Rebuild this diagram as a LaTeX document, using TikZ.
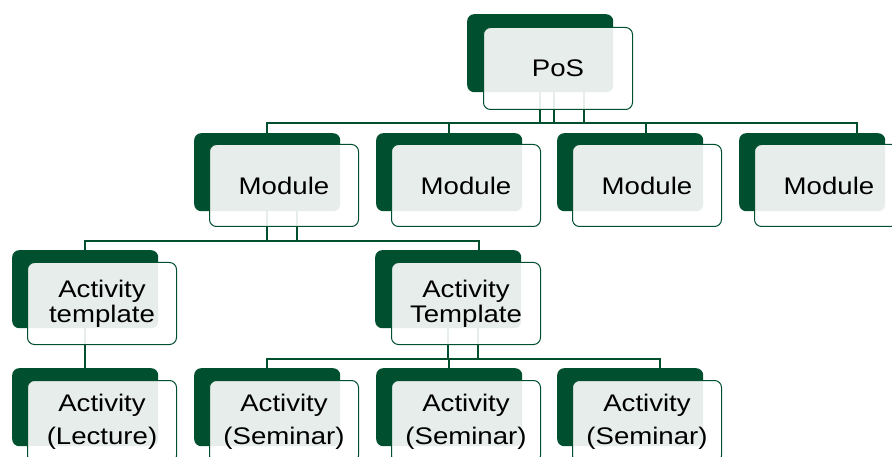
\documentclass[tikz,border=0pt]{standalone}
\usepackage{fontspec}
\setmainfont{Liberation Sans}[FakeStretch=1.15]
\usetikzlibrary{calc,positioning}
\definecolor{Forest}{HTML}{00502F}
\tikzset{
  backbox/.style={
    anchor=north west, rounded corners=7pt, fill=Forest,
    minimum width=146pt, minimum height=78pt, inner sep=0pt
  },
  frontbox/.style={
    anchor=north west, rounded corners=7pt, draw=Forest, line width=1pt,
    fill=white, fill opacity=0.9, text opacity=1, text=black,
    minimum width=149pt, minimum height=82pt, inner sep=0pt, align=center,
    font=\fontsize{24}{25}\selectfont
  },
  tallfront/.style={frontbox, font=\fontsize{24}{33}\selectfont},
  link/.style={draw=Forest, line width=1.5pt}
}

\begin{document}
\begin{tikzpicture}[x=1pt,y=-1pt]
    \useasboundingbox (0,0) rectangle (892,457);
    % back plates
    \node[backbox] (posB) at (467,14) {};
    \node[backbox] (mod1B) at (194,133) {};
    \node[backbox] (mod2B) at (376,133) {};
    \node[backbox] (mod3B) at (557,133) {};
    \node[backbox] (mod4B) at (739,133) {};
    \node[backbox] (tplaB) at (12,250) {};
    \node[backbox] (tplbB) at (375,250) {};
    \node[backbox] (lecB) at (12,368) {};
    \node[backbox] (sem1B) at (194,368) {};
    \node[backbox] (sem2B) at (376,368) {};
    \node[backbox] (sem3B) at (557,368) {};
    % bus points
    \coordinate (busA1) at (540,123);
    \coordinate (busA2) at (554,123);
    \coordinate (busA3) at (584,123);
    \coordinate (busA4) at (646,123);
    \coordinate (busA5) at (857,123);
    \coordinate (busB1) at (297,241);
    \coordinate (busB2) at (479,241);
    \coordinate (busC1) at (478,359);
    \coordinate (busC2) at (660,359);
    % PoS to modules
    \draw[link] (posB.south -| busA1) -- (busA1);
    \draw[link] (posB.south -| busA2) -- (busA2);
    \draw[link] (posB.south -| busA3) -- (busA3);
    \draw[link] (mod1B.north) |- (busA5) -- (busA5 |- mod4B.north);
    \draw[link] (mod2B.north) -- (mod2B.north |- busA1);
    \draw[link] (busA4) -- (busA4 |- mod3B.north);
    % module to templates
    \draw[link] (mod1B.south) -- (mod1B.south |- busB1);
    \draw[link] (mod1B.south -| busB1) -- (busB1);
    \draw[link] (tplaB.north) |- (busB2) -- (busB2 |- tplbB.north);
    % templates to activities
    \draw[link] (tplaB.south) -- (lecB.north);
    \draw[link] (tplbB.south) -- (tplbB.south |- busC1);
    \draw[link] (tplbB.south -| busC1) -- (busC1);
    \draw[link] (sem1B.north) |- (busC2) -- (busC2 |- sem3B.north);
    \draw[link] (sem2B.north) -- (sem2B.north |- busC1);
    % front cards
    \node[frontbox] (posF) at ([shift={(16,13)}]posB.north west) {PoS};
    \node[frontbox] (mod1F) at ([shift={(15,11)}]mod1B.north west) {Module};
    \node[frontbox] (mod2F) at ([shift={(15,11)}]mod2B.north west) {Module};
    \node[frontbox] (mod3F) at ([shift={(15,11)}]mod3B.north west) {Module};
    \node[frontbox] (mod4F) at ([shift={(15,11)}]mod4B.north west) {Module};
    \node[frontbox] (tplaF) at ([shift={(15,12)}]tplaB.north west) {Activity\\template};
    \node[frontbox] (tplbF) at ([shift={(16,12)}]tplbB.north west) {Activity\\Template};
    \node[tallfront] (lecF) at ([shift={(15,12)}]lecB.north west) {Activity\\(Lecture)};
    \node[tallfront] (sem1F) at ([shift={(15,12)}]sem1B.north west) {Activity\\(Seminar)};
    \node[tallfront] (sem2F) at ([shift={(15,12)}]sem2B.north west) {Activity\\(Seminar)};
    \node[tallfront] (sem3F) at ([shift={(15,12)}]sem3B.north west) {Activity\\(Seminar)};
\end{tikzpicture}
\end{document}
